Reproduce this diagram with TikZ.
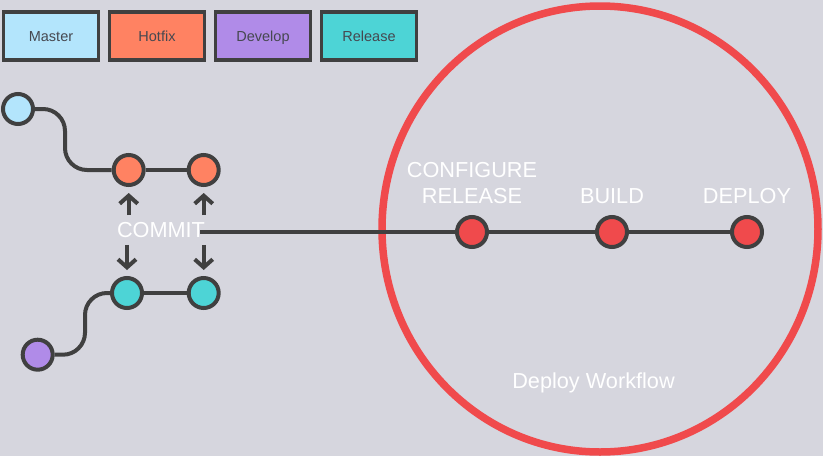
\documentclass[tikz,border=0pt]{standalone}
\usepackage{fontspec}
\setmainfont{Liberation Sans}
\usetikzlibrary{shapes,arrows,arrows.meta,calc}
\usetikzlibrary{positioning}
\definecolor{clrBack}{RGB}{214,214,222}
\definecolor{clrDark}{RGB}{64,64,64}
\definecolor{clrText}{RGB}{70,72,80}
\definecolor{clrMaster}{RGB}{179,229,252}
\definecolor{clrHotfix}{RGB}{255,130,98}
\definecolor{clrDevelop}{RGB}{176,139,232}
\definecolor{clrRelease}{RGB}{77,212,214}
\definecolor{clrRed}{RGB}{240,74,76}
\tikzstyle{legend_box}=[draw=clrDark, line width=3.5pt, minimum width=95pt, minimum height=48pt,
anchor=center, text centered, text=clrText, text height=10.5pt, text depth=0pt,
font=\fontsize{14.5}{17}\selectfont]
\tikzstyle{gitnode}=[circle, draw=clrDark, line width=4pt, minimum size=30pt, inner sep=0pt]
\tikzstyle{branch}=[draw=clrDark, line width=4pt]
\tikzstyle{branch_curve}=[branch, rounded corners=22pt]
\tikzstyle{myarrow}=[-{Straight Barb[length=8pt,width=18pt]}, draw=clrDark, line width=4pt, shorten >=6pt]
\tikzstyle{label_text}=[text=white, font=\fontsize{21.7}{26}\selectfont, inner sep=0pt, align=center]

\begin{document}
\begin{tikzpicture}[x=1pt,y=-1pt]
		\fill[clrBack] (0,0) rectangle (823,456) ;
		\useasboundingbox (0,0) rectangle (823,456) ;

		% legend
		\node[legend_box, fill=clrMaster] (L1) at (51,36) {Master} ;
		\node[legend_box, fill=clrHotfix, right=7.5pt of L1] (L2) {Hotfix} ;
		\node[legend_box, fill=clrDevelop, right=7.5pt of L2] (L3) {Develop} ;
		\node[legend_box, fill=clrRelease, right=7.5pt of L3] (L4) {Release} ;

		% deploy workflow
		\draw[clrRed, line width=7.5pt] (600,229) ellipse [x radius=218, y radius=223] ;

		\node[gitnode, fill=clrRed] (c1) at (472,232) {} ;
		\node[gitnode, fill=clrRed] (c2) at (612,232) {} ;
		\node[gitnode, fill=clrRed] (c3) at (747,232) {} ;
		\node[label_text, above=11pt of c1] (t1) {CONFIGURE\\RELEASE} ;
		\node[label_text, above=11pt of c2] (t2) {BUILD} ;
		\node[label_text, above=11pt of c3] (t3) {DEPLOY} ;
		\node[label_text, anchor=base] (workflow) at (593.5,388) {Deploy Workflow} ;

		% branches
		\node[gitnode, fill=clrMaster] (m1) at (18,109) {} ;
		\node[gitnode, fill=clrHotfix] (h1) at (128.7,170) {} ;
		\node[gitnode, fill=clrHotfix] (h2) at (203.7,170) {} ;
		\node[gitnode, fill=clrRelease] (r1) at (127,293) {} ;
		\node[gitnode, fill=clrRelease] (r2) at (203.7,293) {} ;
		\node[gitnode, fill=clrDevelop] (d1) at (37.7,354.7) {} ;

		\draw[branch_curve] (m1) -- (65,109) -- (65,170) -- (h1) ;
		\draw[branch] (h1) -- (h2) ;
		\draw[branch_curve] (d1) -- (85,354.7) -- (85,293) -- (r1) ;
		\draw[branch] (r1) -- (r2) ;

		\node[label_text, inner sep=7pt] (commitlbl) at (161,230) {COMMIT} ;
		\coordinate (lineStart) at ([xshift=-12pt]commitlbl.east) ;
		\draw[branch] (lineStart |- c1) -- (c1) ;
		\draw[branch] (c1) -- (c2) ;
		\draw[branch] (c2) -- (c3) ;

		\draw[myarrow] (h1 |- commitlbl.north) -- (h1) ;
		\draw[myarrow] (h2 |- commitlbl.north) -- (h2) ;
		\draw[myarrow] (r1 |- commitlbl.south) -- (r1) ;
		\draw[myarrow] (r2 |- commitlbl.south) -- (r2) ;
	\end{tikzpicture}
\end{document}
